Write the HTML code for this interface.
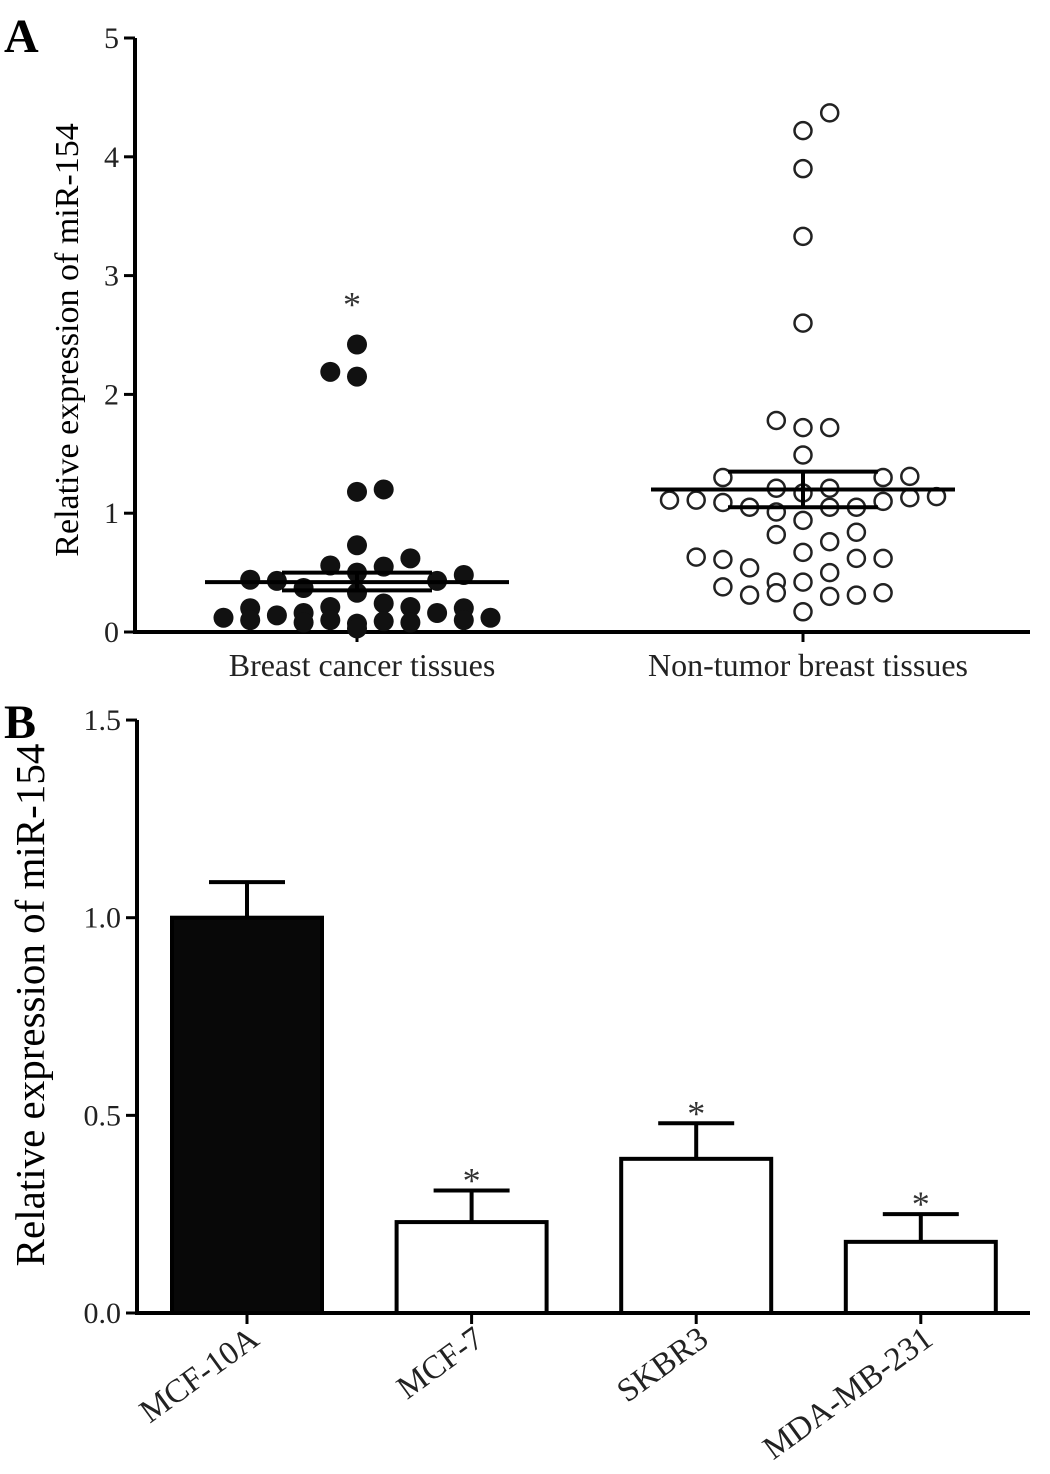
<!DOCTYPE html>
<html><head><meta charset="utf-8"><style>
html,body{margin:0;padding:0;background:#fff}
svg{display:block;font-family:"Liberation Serif",serif}
</style></head><body>
<svg id="chart" width="1050" height="1474" viewBox="0 0 1050 1474">
<g id="pa"></g>
<g id="pb"></g>
</svg>
<script>
// Panel A data: [jitter slot, value]
const cancerPoints=[[0,2.42],[-1,2.19],[0,2.15],[0,1.18],[1,1.2],[0,0.73],[-1,0.56],[0,0.5],[1,0.55],[2,0.62],[-4,0.44],[-3,0.43],[-2,0.37],[3,0.43],[4,0.48],[-5,0.12],[-4,0.2],[-3,0.14],[-2,0.16],[-1,0.21],[1,0.24],[2,0.21],[3,0.16],[4,0.2],[5,0.12],[-1,0.1],[0,0.07],[1,0.09],[0,0.33],[-4,0.1],[4,0.1],[0,0.03],[-2,0.08],[2,0.08]];
const normalPoints=[[1,4.37],[0,4.22],[0,3.9],[0,3.33],[0,2.6],[-1,1.78],[0,1.72],[1,1.72],[0,1.49],[-3,1.3],[-1,1.21],[0,1.17],[1,1.21],[3,1.3],[4,1.31],[-5,1.11],[-4,1.11],[-3,1.09],[-2,1.05],[-1,1.01],[0,0.94],[1,1.05],[2,1.05],[3,1.1],[4,1.13],[5,1.14],[-1,0.82],[0,0.67],[1,0.76],[2,0.84],[-4,0.63],[-3,0.61],[-2,0.54],[-1,0.42],[0,0.42],[1,0.5],[2,0.62],[3,0.62],[-3,0.38],[-2,0.31],[-1,0.33],[1,0.3],[2,0.31],[3,0.33],[0,0.17]];
const groupLabels=["Breast cancer tissues","Non-tumor breast tissues"];
const groupMeans=[0.42,1.2];
const groupSemLo=[0.35,1.05];
const groupSemHi=[0.5,1.35];
const aTicks=[0,1,2,3,4,5];
// Panel B data
const cellLines=["MCF-10A","MCF-7","SKBR3","MDA-MB-231"];
const cellValues=[1.0,0.23,0.39,0.18];
const cellErrors=[0.09,0.08,0.09,0.07];
const cellSig=[false,true,true,true];
const bTicks=[0,0.5,1.0,1.5];

const NS="http://www.w3.org/2000/svg";
function mk(p,t,a){const e=document.createElementNS(NS,t);for(const k in a)e.setAttribute(k,a[k]);p.appendChild(e);return e;}
const pa=document.getElementById('pa'),pb=document.getElementById('pb');

// ---- Panel A ----
const ay=v=>632-v*118.8;
const ax=i=>357+i*446;
const slotW=26.7;
let t=mk(pa,'text',{x:4,y:52,'font-size':48,'font-weight':'bold'});t.textContent='A';


let l=mk(pa,'line',{x1:135,y1:ay(5),x2:135,y2:ay(0)+2,stroke:'#000','stroke-width':4});


l=mk(pa,'line',{x1:133,y1:ay(0),x2:1030,y2:ay(0),stroke:'#000','stroke-width':4});


aTicks.forEach(v=>{
  mk(pa,'line',{x1:124,y1:ay(v),x2:135,y2:ay(v),stroke:'#000','stroke-width':3});
  const tx=mk(pa,'text',{x:119,y:ay(v)+10,'font-size':30,'text-anchor':'end',fill:'#222'});tx.textContent=v;
  
  
});
t=mk(pa,'text',{x:0,y:0,'font-size':34,'text-anchor':'middle',transform:'translate(78,340) rotate(-90)'});t.textContent='Relative expression of miR-154';


groupLabels.forEach((g,i)=>{
  mk(pa,'line',{x1:ax(i),y1:ay(0),x2:ax(i),y2:ay(0)+10,stroke:'#000','stroke-width':3});
  const tx=mk(pa,'text',{x:ax(i)+5,y:676,'font-size':32,'text-anchor':'middle',fill:'#222'});tx.textContent=g;
  
  
});
cancerPoints.forEach(p=>{
  const c=mk(pa,'circle',{cx:ax(0)+p[0]*slotW,cy:ay(p[1]),r:10,fill:'#111'});
  
  
});
normalPoints.forEach(p=>{
  const c=mk(pa,'circle',{cx:ax(1)+p[0]*slotW,cy:ay(p[1]),r:8.5,fill:'#fff',stroke:'#222','stroke-width':2.5});
  
  
});
groupMeans.forEach((m,i)=>{
  const g=mk(pa,'g',{stroke:'#000','stroke-width':4});
  
  
  mk(g,'line',{x1:ax(i)-152,y1:ay(m),x2:ax(i)+152,y2:ay(m)});
  mk(g,'line',{x1:ax(i)-75,y1:ay(groupSemLo[i]),x2:ax(i)+75,y2:ay(groupSemLo[i])});
  mk(g,'line',{x1:ax(i)-75,y1:ay(groupSemHi[i]),x2:ax(i)+75,y2:ay(groupSemHi[i])});
  mk(g,'line',{x1:ax(i),y1:ay(groupSemLo[i]),x2:ax(i),y2:ay(groupSemHi[i])});
});
t=mk(pa,'text',{x:ax(0)-5,y:ay(2.42)-28,'font-size':36,'text-anchor':'middle',fill:'#333'});t.textContent='*';



// ---- Panel B ----
const by=v=>1313-v*395.3;
const bx=i=>247+i*224.6;
const bw=150;
t=mk(pb,'text',{x:4,y:738,'font-size':48,'font-weight':'bold'});t.textContent='B';


l=mk(pb,'line',{x1:137,y1:by(1.5),x2:137,y2:by(0)+2,stroke:'#000','stroke-width':4});


l=mk(pb,'line',{x1:135,y1:by(0),x2:1030,y2:by(0),stroke:'#000','stroke-width':4});


bTicks.forEach(v=>{
  mk(pb,'line',{x1:126,y1:by(v),x2:137,y2:by(v),stroke:'#000','stroke-width':3});
  const tx=mk(pb,'text',{x:121,y:by(v)+10,'font-size':30,'text-anchor':'end',fill:'#222'});tx.textContent=v.toFixed(1);
  
  
});
t=mk(pb,'text',{x:0,y:0,'font-size':41,'text-anchor':'middle',transform:'translate(44,1005) rotate(-90)'});t.textContent='Relative expression of miR-154';


cellLines.forEach((c,i)=>{
  const x=bx(i),v=cellValues[i],e=cellErrors[i];
  const eg=mk(pb,'g',{stroke:'#000','stroke-width':4});
  
  
  mk(eg,'line',{x1:x,y1:by(v),x2:x,y2:by(v+e)});
  mk(eg,'line',{x1:x-38,y1:by(v+e),x2:x+38,y2:by(v+e)});
  const r=mk(pb,'rect',{x:x-bw/2,y:by(v),width:bw,height:by(0)-by(v),fill:i===0?'#080808':'#fff',stroke:'#000','stroke-width':4});
  
  
  mk(pb,'line',{x1:x,y1:by(0),x2:x,y2:by(0)+11,stroke:'#000','stroke-width':3});
  const tx=mk(pb,'text',{x:0,y:0,'font-size':33,'text-anchor':'end',fill:'#222',transform:`translate(${x+14},${1343}) rotate(-36)`});tx.textContent=c;
  
  
  if(cellSig[i]){
    const s=mk(pb,'text',{x:x,y:by(v+e)+2,'font-size':36,'text-anchor':'middle',fill:'#333'});s.textContent='*';
    
    
  }
});
</script>
</body></html>
